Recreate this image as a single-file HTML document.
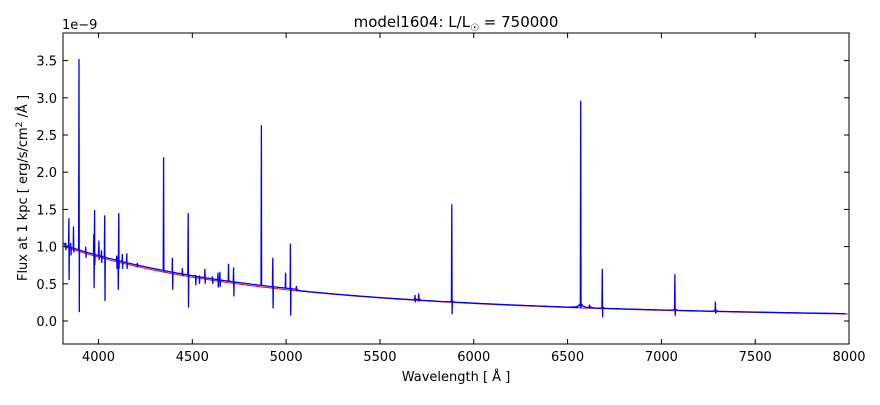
<!DOCTYPE html>
<html><head><meta charset="utf-8"><style>
body{margin:0;background:#fff;width:880px;height:400px;overflow:hidden;font-family:"Liberation Sans","DejaVu Sans",sans-serif;}
svg text{font-family:"DejaVu Sans","Liberation Sans",sans-serif;}
</style></head><body>
<svg id="s" width="880" height="400" xmlns="http://www.w3.org/2000/svg">
<rect width="880" height="400" fill="#fff"/>
<g id="plot"></g>
<rect x="63" y="33" width="786" height="311" fill="none" stroke="#000" stroke-width="1"/>
<g id="ticks" stroke="#000" stroke-width="1"></g>
<g font-size="13" fill="#000" id="lbl"></g>
<text x="62" y="29" font-size="13">1e−9</text>
<text x="456" y="27" font-size="15" text-anchor="middle">model1604: L/L<tspan font-size="10" dy="4">☉</tspan><tspan dy="-4"> = 750000</tspan></text>
<text x="456" y="381" font-size="13" text-anchor="middle">Wavelength [ Å ]</text>
<text transform="translate(27,188) rotate(-90)" font-size="13" text-anchor="middle">Flux at 1 kpc [ erg/s/cm<tspan font-size="9" dy="-5">2</tspan><tspan dy="5"> /Å ]</tspan></text>
</svg>
<script>
var X=function(l){return 98.5+(l-4000)*0.18763;};
var Y=function(f){return 321-f*74.4;};
var C=function(l){return Math.pow(l/3815,-3.2);};
var ns="http://www.w3.org/2000/svg";
var plot=document.getElementById('plot'),tk=document.getElementById('ticks'),lb=document.getElementById('lbl');
function el(t,a,p){var e=document.createElementNS(ns,t);for(var k in a)e.setAttribute(k,a[k]);p.appendChild(e);return e;}
for(var l=4000;l<=8000;l+=500){var x=X(l);el('line',{x1:x,y1:344,x2:x,y2:339},tk);el('line',{x1:x,y1:33,x2:x,y2:38},tk);var t=el('text',{x:x,y:361,'text-anchor':'middle'},lb);t.textContent=l;}
for(var f=0;f<=3.5;f+=0.5){var y=Y(f);el('line',{x1:63,y1:y,x2:68,y2:y},tk);el('line',{x1:849,y1:y,x2:844,y2:y},tk);var t=el('text',{x:57,y:y+5,'text-anchor':'end'},lb);t.textContent=f.toFixed(1);}
var d='';for(var l=3815;l<=8000;l+=20){d+=(l==3815?'M':'L')+X(l).toFixed(1)+','+Y(C(l)).toFixed(1);}
el('path',{d:d,fill:'none',stroke:'#f00','stroke-width':1},plot);
var F=[[3818,1.05,0.95],[3835,1.38,0.55],[3845,1.05,0.88],[3860,1.27,0.92],[3889,3.52,0.12],[3925,1.0,0.85],[3968,1.17,0.44],[3972,1.49,0.75],[3995,1.08,0.82],[4009,0.95,0.78],[4026,1.42,0.27],[4090,0.88,0.7],[4097,0.86,0.42],[4101,1.45,0.7],[4120,0.9,0.7],[4144,0.91,0.7],[4200,0.78,0.72],[4340,2.2,0.65],[4387,0.85,0.42],[4440,0.71,0.6],[4471,1.45,0.18],[4510,0.62,0.48],[4530,0.6,0.5],[4560,0.7,0.5],[4600,0.6,0.5],[4630,0.65,0.45],[4640,0.66,0.46],[4686,0.77,0.55],[4713,0.72,0.33],[4861,2.63,0.48],[4922,0.85,0.17],[4990,0.65,0.45],[5016,1.04,0.07],[5048,0.47,0.4],[5680,0.35,0.25],[5700,0.37,0.26],[5876,1.57,0.09],[6563,2.96,0.23],[6610,0.22,0.2],[6678,0.70,0.05],[7065,0.63,0.07],[7281,0.26,0.1]];
F.forEach(function(a){a[0]+=7;});
var d2='M'+X(3815)+','+Y(1.05);
var prev=3815;
F.forEach(function(a){var l=a[0];
 for(var q=prev+10;q<l-4;q+=10){d2+='L'+X(q).toFixed(1)+','+Y(C(q)+(q<5050?0.02:0.005)).toFixed(1);}
 if(l==6570){for(var q=6497;q<6567;q+=5){var dd=Math.abs(q-l);d2+='L'+X(q).toFixed(1)+','+Y(C(q)+0.2/(1+dd/2)).toFixed(1);}}
 d2+='L'+X(l-2).toFixed(1)+','+Y(C(l)+0.02).toFixed(1);
 d2+='L'+X(l).toFixed(1)+','+Y(a[1]).toFixed(1);
 d2+='L'+X(l+1.5).toFixed(1)+','+Y(a[2]).toFixed(1);
 d2+='L'+X(l+3).toFixed(1)+','+Y(C(l)+0.02).toFixed(1);
 if(l==6570){for(var q=6577;q<6647;q+=5){var dd=Math.abs(q-l);d2+='L'+X(q).toFixed(1)+','+Y(C(q)+0.2/(1+dd/2)).toFixed(1);}prev=6647;}else prev=l+3;
});
for(var q=prev+10;q<=8000;q+=20){d2+='L'+X(q).toFixed(1)+','+Y(C(q)+0.005).toFixed(1);}
el('path',{d:d2,fill:'none',stroke:'#00f','stroke-width':1.3},plot);
</script>
</body></html>
